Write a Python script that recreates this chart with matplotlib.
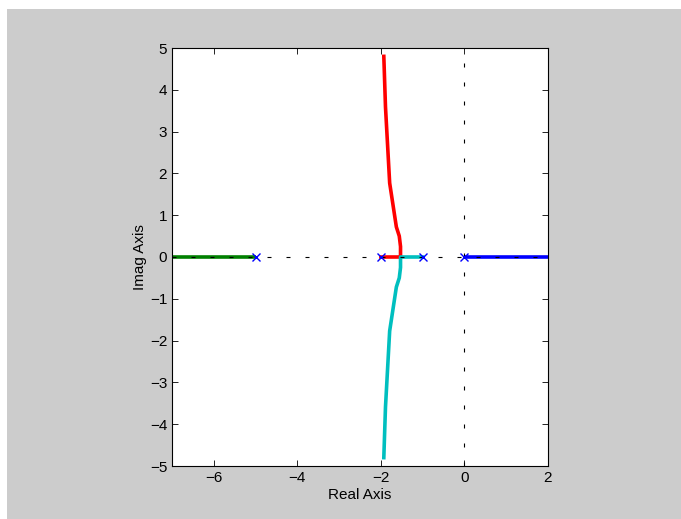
import numpy as np
import matplotlib.pyplot as plt
from matplotlib.patches import Rectangle

plt.rcParams["font.family"] = ["Liberation Sans", "DejaVu Sans"]

# open-loop poles
poles = [0.0, -1.0, -2.0, -5.0]

# root locus branches (real, imag)
red_re = [-2.0, -1.53, -1.53, -1.56, -1.63, -1.79, -1.89, -1.93]
red_im = [0.0, 0.0, 0.25, 0.5, 0.72, 1.77, 3.59, 4.8]
cyan_re = [-1.0, -1.53, -1.53, -1.56, -1.63, -1.79, -1.89, -1.93]
cyan_im = [0.0, 0.0, -0.25, -0.5, -0.72, -1.77, -3.59, -4.8]
blue_re = [0.0, 2.5]
blue_im = [0.0, 0.0]
green_re = [-5.0, -7.5]
green_im = [0.0, 0.0]

xticks = [-6, -4, -2, 0, 2]
yticks = [-5, -4, -3, -2, -1, 0, 1, 2, 3, 4, 5]

fig = plt.figure(figsize=(6.81, 5.19), dpi=100, facecolor="#cccccc")
# thin white strips along the left and top edges
fig.patches.append(Rectangle((0, 0), 7 / 681, 1, transform=fig.transFigure,
                             facecolor="white", edgecolor="none", zorder=-10))
fig.patches.append(Rectangle((0, 1 - 9 / 519), 1, 9 / 519, transform=fig.transFigure,
                             facecolor="white", edgecolor="none", zorder=-10))
ax = fig.add_axes([172 / 681, 53 / 519, 376 / 681, 418 / 519])
ax.set_facecolor("white")

lw = 2.6
ax.plot(green_re, green_im, color="#008000", lw=lw, solid_capstyle="butt")
ax.plot(blue_re, blue_im, color="#0000ff", lw=lw, solid_capstyle="butt")
ax.plot(red_re, red_im, color="#ff0000", lw=lw)
ax.plot(cyan_re, cyan_im, color="#00bfbf", lw=lw)

# dotted axis lines
ax.axhline(0, color="black", lw=0.8, ls=(0, (3.6, 13.5)), zorder=3)
ax.axvline(0, color="black", lw=0.8, ls=(0, (3.6, 13.5)), zorder=3)

ax.plot(poles, [0] * len(poles), "x", color="#0000ff", ms=6, mew=1.0, zorder=4)

ax.set_xlim(-7, 2)
ax.set_ylim(-5, 5)
ax.set_xticks(xticks)
ax.set_yticks(yticks)
ax.tick_params(direction="in", top=True, right=True, labelsize=11, length=4, width=0.6)
for s in ax.spines.values():
    s.set_linewidth(0.8)
ax.set_xlabel("Real Axis", fontsize=11, labelpad=2)
ax.set_ylabel("Imag Axis", fontsize=11, labelpad=2)

fig.savefig("out.png", dpi=100, facecolor=fig.get_facecolor())
